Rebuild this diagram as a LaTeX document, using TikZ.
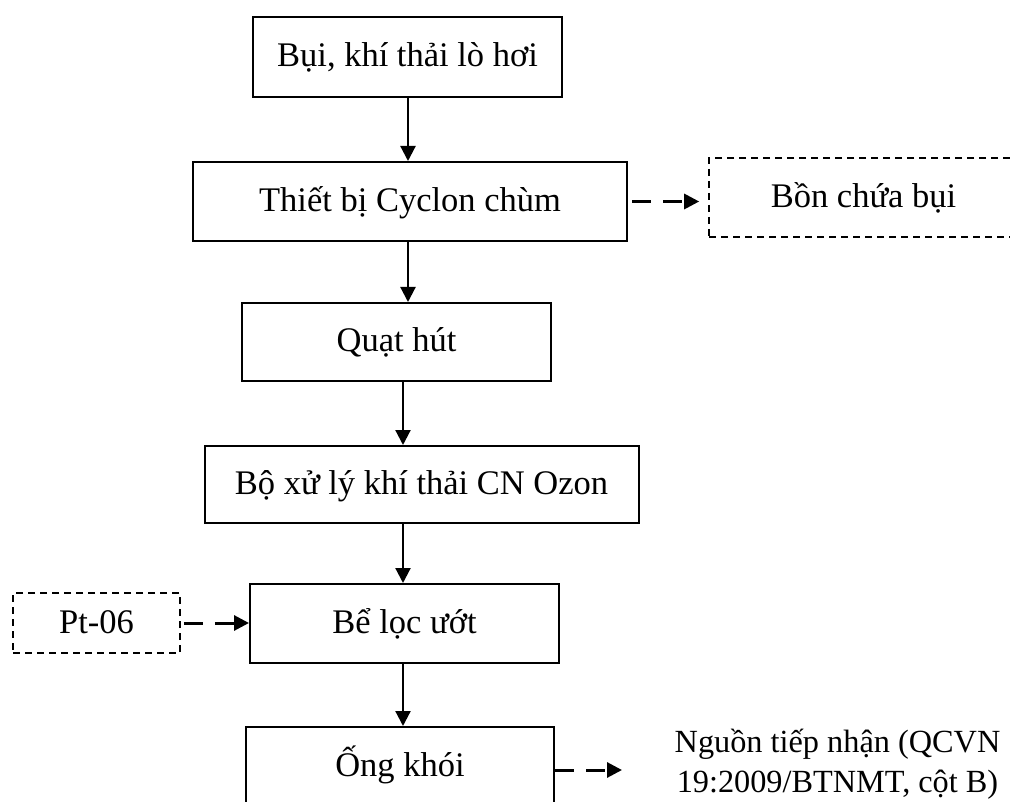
\documentclass[tikz,border=0pt]{standalone}
\usepackage{fontspec}
\setmainfont{Liberation Serif}
\usetikzlibrary{arrows.meta}
\begin{document}
\begin{tikzpicture}[x=1pt,y=-1pt,
  box/.style={draw, line width=2pt, inner sep=0pt,
    text height=26pt, text depth=6pt,
    font=\fontsize{34.5}{40}\selectfont},
  dbox/.style={box, line width=1.6pt, dash pattern=on 7pt off 5pt},
  arr/.style={line width=2.2pt, -{Triangle[width=15pt,length=15pt]}},
  darr/.style={line width=3pt, dash pattern=on 19pt off 12pt,
    -{Triangle[width=15pt,length=15pt]}}]
  % page frame
  \clip (0,0) rectangle (1010,802);
  \fill[white] (0,0) rectangle (1010,802);

  % main treatment chain
  \node[box, minimum width=309pt, minimum height=80pt] (b1) at (407.5,57) {Bụi, khí thải lò hơi};
  \node[box, minimum width=434pt, minimum height=79pt] (b2) at (410,201.5) {Thiết bị Cyclon chùm};
  \node[box, minimum width=309pt, minimum height=78pt] (b3) at (396.5,342) {Quạt hút};
  \node[box, minimum width=434pt, minimum height=77pt] (b5) at (421.5,484.5) {Bộ xử lý khí thải CN Ozon};
  \node[box, minimum width=309pt, minimum height=79pt] (b6) at (404.5,623.5) {Bể lọc ướt};
  \node[box, minimum width=308pt, minimum height=79pt] (b8) at (400,766.5) {Ống khói};

  % side inputs / outputs
  \node[dbox, minimum width=309pt, minimum height=79pt] (bon) at (863.5,197.5) {Bồn chứa bụi};
  \node[dbox, minimum width=167pt, minimum height=60pt] (pt) at (96.5,623) {Pt-06};
  \node[align=center, inner sep=0pt, font=\fontsize{32.3}{40}\selectfont] (nguon) at (837.5,764)
    {Nguồn tiếp nhận (QCVN\\19:2009/BTNMT, cột B)};

  % arrow columns
  \coordinate (colA) at (408,0);
  \coordinate (colB) at (403,0);
  \draw[arr] (b1.south -| colA) -- (b2.north -| colA);
  \draw[arr] (b2.south -| colA) -- (b3.north -| colA);
  \draw[arr] (b3.south -| colB) -- (b5.north -| colB);
  \draw[arr] (b5.south -| colB) -- (b6.north -| colB);
  \draw[arr] (b6.south -| colB) -- (b8.north -| colB);

  % dashed side flows
  \coordinate (bonin) at ([xshift=-9pt]bon.west);
  \draw[darr] ([xshift=4pt]b2.east) -- (bonin |- b2.east);
  \draw[darr] ([xshift=3pt]pt.east) -- (pt.east -| b6.west);
  \coordinate (outend) at (622,770);
  \draw[darr] (b8.east |- outend) -- (outend);
\end{tikzpicture}
\end{document}
